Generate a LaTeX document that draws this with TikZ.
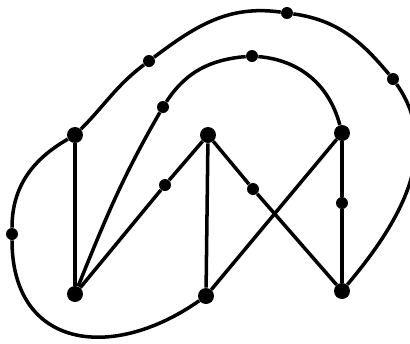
\documentclass[tikz,border=0pt]{standalone}
\usepackage{tikz}

\begin{document}
\begin{tikzpicture}[
  x=0.02cm,y=0.02cm,
  big/.style={circle,fill=black,inner sep=0pt,minimum size=3.2mm},
  small/.style={circle,fill=black,inner sep=0pt,minimum size=2.4mm},
  edge/.style={line width=2pt,black}
]
\useasboundingbox (0,0) rectangle (410,343);
\node[big] (tl) at (75,208) {};
\node[big] (tm) at (208,208) {};
\node[big] (tr) at (342,210) {};
\node[big] (bl) at (75,49) {};
\node[big] (bm) at (206,47) {};
\node[big] (br) at (342,52) {};
\node[small] (o1) at (149,282) {};
\node[small] (o2) at (287,330) {};
\node[small] (o3) at (393,264) {};
\node[small] (o4) at (12,109) {};
\node[small] (i1) at (163,236) {};
\node[small] (i2) at (252,287) {};
\node[small] (d1) at (165,158) {};
\node[small] (d2) at (253,154) {};
\node[small] (d3) at (342,140) {};
\draw[edge] (tl) -- (bl);
\draw[edge] (tm) -- (bm);
\draw[edge] (bl) -- (d1) -- (tm);
\draw[edge] (tm) -- (d2) -- (br);
\draw[edge] (bm) -- (tr);
\draw[edge] (tr) -- (d3) -- (br);
\draw[edge] (tl) to[out=45,in=217] (o1) to[out=37,in=172] (o2)
  to[out=-8,in=130] (o3) to[out=-55,in=50] (br);
\draw[edge] (tl) to[out=210,in=90] (o4) to[out=270,in=215,looseness=1.4] (bm);
\draw[edge] (bl) to[out=68,in=240] (i1) to[out=57,in=185] (i2)
  to[out=-5,in=105] (tr);
\end{tikzpicture}
\end{document}
